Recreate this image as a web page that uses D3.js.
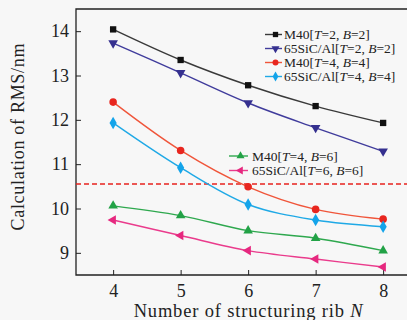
<!DOCTYPE html>
<html><head><meta charset="utf-8">
<script src="https://cdn.jsdelivr.net/npm/d3@7/dist/d3.min.js"></script>
<style>body{margin:0;background:#f7f7f7;}svg{display:block;}</style>
</head><body><svg id="c" width="407" height="320"></svg>
<script>
const xValues = [4, 5, 6, 7, 8];
const m40_T2B2 = [14.04, 13.35, 12.78, 12.31, 11.93];
const sic_T2B2 = [13.73, 13.06, 12.38, 11.82, 11.29];
const m40_T4B4 = [12.40, 11.31, 10.49, 9.98, 9.76];
const sic_T4B4 = [11.93, 10.92, 10.09, 9.74, 9.59];
const m40_T4B6 = [10.06, 9.84, 9.50, 9.33, 9.05];
const sic_T6B6 = [9.74, 9.39, 9.05, 8.86, 8.68];
const thresholdValue = 10.55;
const yTicks = [9, 10, 11, 12, 13, 14];
const xTicks = [4, 5, 6, 7, 8];

const series = [
  {name:"M40", T:"2", B:"2", vals:m40_T2B2, line:"#3a3a3a", fill:"#111", sym:"square", legend:0},
  {name:"65SiC/Al", T:"2", B:"2", vals:sic_T2B2, line:"#403c9c", fill:"#35308f", sym:"down", legend:0},
  {name:"M40", T:"4", B:"4", vals:m40_T4B4, line:"#f0553a", fill:"#e8261f", sym:"circle", legend:0},
  {name:"65SiC/Al", T:"4", B:"4", vals:sic_T4B4, line:"#1fa9e6", fill:"#14a4ea", sym:"diamond", legend:0},
  {name:"M40", T:"4", B:"6", vals:m40_T4B6, line:"#2ea84e", fill:"#22a246", sym:"up", legend:1},
  {name:"65SiC/Al", T:"6", B:"6", vals:sic_T6B6, line:"#ea3b8c", fill:"#e6287f", sym:"left", legend:1}
];

const svg = d3.select("#c");
const x = d3.scaleLinear().domain([3.45, 8.45]).range([76, 413.5]);
const y = d3.scaleLinear().domain([8.5, 14.5]).range([275, 9]);

const font = "'Liberation Serif','Times New Roman',serif";

// frame (left, top, bottom)
svg.append("path").attr("d", `M${x.range()[1]},${y(14.5)}H${x(3.45)}V${y(8.5)}H${x.range()[1]}`)
  .attr("fill","none").attr("stroke","#222").attr("stroke-width",1.3);

// x axis
const xa = svg.append("g").attr("transform",`translate(0,${y(8.5)})`)
  .call(d3.axisBottom(x).tickValues(xTicks).tickSize(-5).tickPadding(9).tickFormat(d3.format("d")));
xa.select(".domain").remove();
xa.selectAll("line").attr("stroke","#222");
xa.selectAll("text").attr("font-family",font).attr("font-size",18).attr("fill","#222");

// y axis
const ya = svg.append("g").attr("transform",`translate(${x(3.45)},0)`)
  .call(d3.axisLeft(y).tickValues(yTicks).tickSize(-5).tickPadding(7).tickFormat(d3.format("d")));
ya.select(".domain").remove();
ya.selectAll("line").attr("stroke","#222");
ya.selectAll("text").attr("font-family",font).attr("font-size",18).attr("fill","#222");

// axis titles
svg.append("text").attr("x",(x(4)+x(8))/2).attr("y",317).attr("text-anchor","middle")
  .attr("font-family",font).attr("font-size",18.5).attr("fill","#222")
  .attr("textLength",229).attr("lengthAdjust","spacing")
  .html('Number of structuring rib <tspan font-style="italic">N</tspan>');
svg.append("text").attr("transform",`translate(24,${137}) rotate(-90)`).attr("text-anchor","middle")
  .attr("font-family",font).attr("font-size",18).attr("fill","#222")
  .attr("textLength",187).attr("lengthAdjust","spacing")
  .text("Calculation of RMS/nm");

// threshold
svg.append("line").attr("x1",x(3.45)).attr("x2",407).attr("y1",y(thresholdValue)).attr("y2",y(thresholdValue))
  .attr("stroke","#e8231f").attr("stroke-width",1.5).attr("stroke-dasharray","5,3");

const symType = {square:d3.symbolSquare, circle:d3.symbolCircle, diamond:d3.symbolDiamond, up:d3.symbolTriangle, down:d3.symbolTriangle, left:d3.symbolTriangle};
const symSize = {square:40, circle:45, diamond:45, up:40, down:40, left:40};
const rot = {square:0,circle:0,diamond:0,up:0,down:180,left:-90};

const line = d3.line().x((d,i)=>x(xValues[i])).y(d=>y(d)).curve(d3.curveCatmullRom.alpha(0.5));
series.forEach(s=>{
  svg.append("path").attr("d",line(s.vals)).attr("fill","none").attr("stroke",s.line).attr("stroke-width",1.4);
  s.vals.forEach((v,i)=>{
    svg.append("path").attr("d",d3.symbol().type(symType[s.sym]).size(symSize[s.sym])())
      .attr("transform",`translate(${x(xValues[i])},${y(v)}) rotate(${rot[s.sym]})`)
      .attr("fill",s.fill);
  });
});

// legends
const legPos = [{lx:265, tx:284, y0:34.5, dy:14},{lx:229, tx:252, y0:156, dy:14.5}];
const counts = [0,0];
series.forEach(s=>{
  const L = legPos[s.legend];
  const yy = L.y0 + counts[s.legend]*L.dy; counts[s.legend]++;
  const len = s.legend===0 ? 17 : 19;
  svg.append("line").attr("x1",L.lx).attr("x2",L.lx+len).attr("y1",yy).attr("y2",yy)
    .attr("stroke",s.line).attr("stroke-width",1.4);
  svg.append("path").attr("d",d3.symbol().type(symType[s.sym]).size(28)())
    .attr("transform",`translate(${L.lx+len/2+2},${yy}) rotate(${rot[s.sym]})`).attr("fill",s.fill);
  svg.append("text").attr("x",L.tx).attr("y",yy+4.5).attr("font-family",font).attr("font-size",13.5).attr("fill","#222")
    .html(`${s.name}[<tspan font-style="italic">T</tspan>=${s.T}, <tspan font-style="italic">B</tspan>=${s.B}]`);
});
</script></body></html>
